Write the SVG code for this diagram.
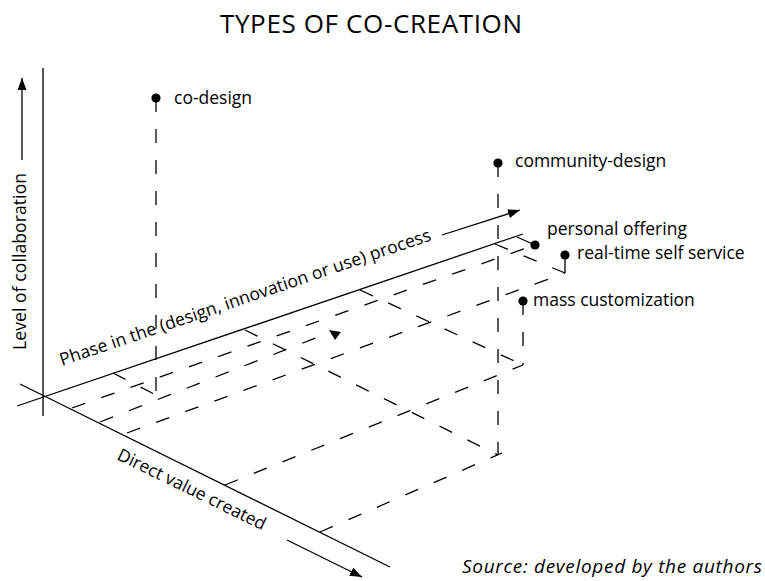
<svg xmlns="http://www.w3.org/2000/svg" width="765" height="581" viewBox="0 0 765 581">
<style>
text{font-family:"Open Sans","Noto Sans","Liberation Sans",sans-serif;fill:#000}
.lbl{font-size:17.5px}
.ax{stroke:#000;stroke-width:1.3;fill:none}
.dash{stroke:#000;stroke-width:1.3;fill:none;stroke-dasharray:14 17}
.sol{stroke:#000;stroke-width:1.3;fill:none}
.dot{fill:#000}
</style>
<defs>
<marker id="ah" markerWidth="13" markerHeight="10" refX="12" refY="4.5" orient="auto" markerUnits="userSpaceOnUse"><path d="M0,0 L12,4.5 L0,9 z" fill="#000"/></marker>
</defs>
<rect width="765" height="581" fill="#fff"/>
<text x="220" y="33" font-size="26" textLength="302">TYPES OF CO-CREATION</text>
<g id="axes">
<line class="ax" x1="43" y1="68" x2="43" y2="416"/>
<line class="ax" x1="17" y1="406" x2="523" y2="234"/>
<line class="ax" x1="20" y1="384" x2="390" y2="567"/>
<line class="ax" x1="22" y1="160" x2="22" y2="78" marker-end="url(#ah)"/>
<line class="ax" x1="442" y1="235" x2="520" y2="210" marker-end="url(#ah)"/>
<line class="ax" x1="287" y1="540" x2="362" y2="577" marker-end="url(#ah)"/>
<text class="lbl" transform="translate(25.5,350) rotate(-90)" textLength="177">Level of collaboration</text>
<text class="lbl" transform="translate(62,366) rotate(-18.8)" textLength="391">Phase in the (design, innovation or use) process</text>
<text class="lbl" transform="translate(116,459) rotate(26)" textLength="163">Direct value created</text>
</g>
<g id="connectors">
<line class="dash" x1="113" y1="373" x2="156" y2="395"/>
<line class="dash" x1="245" y1="330" x2="498" y2="455"/>
<line class="dash" x1="360" y1="290" x2="523" y2="365"/>
<line class="dash" x1="495" y1="244" x2="565" y2="273"/>
<line class="sol" x1="517" y1="237" x2="535" y2="245"/>
<line class="dash" x1="72" y1="408" x2="535" y2="245"/>
<line class="dash" x1="100" y1="422" x2="326" y2="334"/>
<line class="dash" x1="127" y1="433" x2="565" y2="273"/>
<line class="dash" x1="225" y1="485" x2="523" y2="365"/>
<line class="dash" x1="320" y1="532" x2="502" y2="453"/>
<line class="dash" x1="156" y1="98" x2="156" y2="395"/>
<line class="dash" x1="498" y1="163" x2="498" y2="455"/>
<line class="dash" x1="523" y1="301" x2="523" y2="365"/>
<line class="sol" x1="565" y1="255" x2="565" y2="273"/>
<polygon points="329,330 341,332 335,340" fill="#000"/>
</g>
<g id="node-co-design"><circle class="dot" cx="156" cy="98" r="4.6"/><text class="lbl" x="174" y="104">co-design</text></g>
<g id="node-community-design"><circle class="dot" cx="498" cy="163" r="4.6"/><text class="lbl" x="515" y="167">community-design</text></g>
<g id="node-personal-offering"><circle class="dot" cx="535" cy="245" r="4.6"/><text class="lbl" x="547" y="235">personal offering</text></g>
<g id="node-real-time"><circle class="dot" cx="565" cy="255" r="4.6"/><text class="lbl" x="577" y="259">real-time self service</text></g>
<g id="node-mass-customization"><circle class="dot" cx="523" cy="301" r="4.6"/><text class="lbl" x="533" y="306">mass customization</text></g>
<text x="462" y="573" font-size="19" font-style="italic" textLength="300">Source: developed by the authors</text>
</svg>
